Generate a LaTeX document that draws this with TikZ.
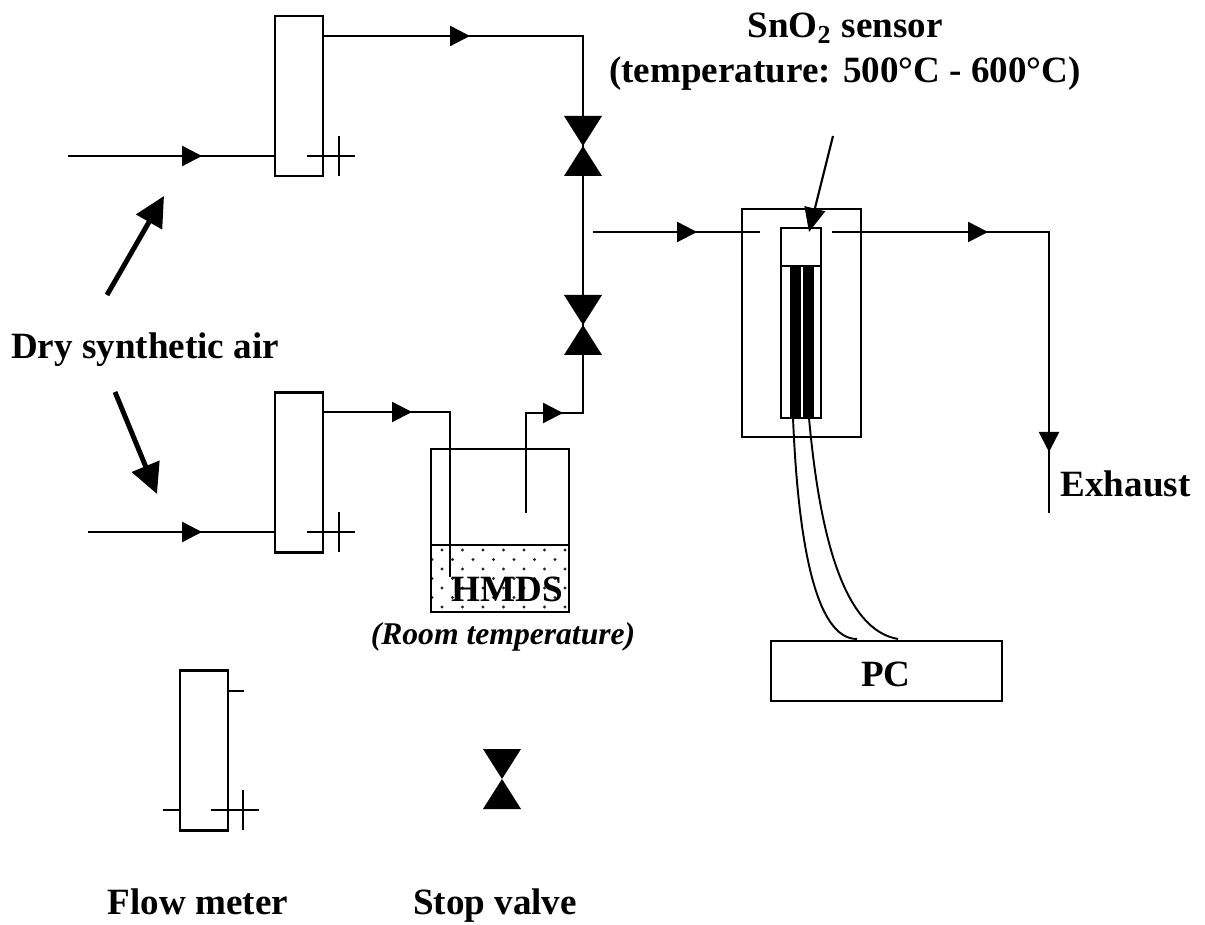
\documentclass[tikz,border=0pt]{standalone}
\usepackage{fontspec}
\setmainfont{Liberation Serif}
\usetikzlibrary{arrows.meta}

\tikzset{
  pipe/.style={line width=.65pt},
  flow/.style={pipe,-{Triangle[length=.2cm,width=.2cm]}},
  meter/.style={draw,line width=.65pt,minimum width=.48cm,minimum height=1.6cm,inner sep=0,outer sep=0},
  box/.style={draw,line width=.65pt,inner sep=0,outer sep=0},
  label/.style={font=\fontsize{10.55}{12.5}\selectfont\bfseries,align=center,inner sep=0,anchor=base},
  bigarrow/.style={line width=1.4pt,-{Triangle[length=.3cm,width=.29cm]}}
}

\begin{document}
\begin{tikzpicture}[x=1cm,y=-1cm]
\useasboundingbox (0,0) rectangle (12.05,9.25);

% Flow meters
\node[meter] (meterA) at (2.99,0.96) {};
\node[meter] (meterB) at (2.99,4.725) {};
\node[meter] (meterC) at (2.04,7.505) {};

% Bottle with the liquid
\foreach \row in {0,...,6}{
  \pgfmathsetmacro{\rowshift}{mod(\row,2)*(-0.1)}
  \foreach \col in {0,...,6}{
    \pgfmathsetmacro{\dotx}{4.42+\rowshift+\col*0.205}
    \pgfmathsetmacro{\doty}{5.50+\row*0.095}
    \fill[black!85] (\dotx,\doty) circle (.016);
  }
}
\node[box,minimum width=1.38cm,minimum height=1.63cm] (bottle) at (5.00,5.305) {};
\coordinate (liquidL) at (4.31,5.45);
\coordinate (liquidR) at (5.69,5.45);
\draw[pipe] (liquidL) -- (liquidR);

% Points of the lines
\coordinate (inA) at (0.68,1.56);
\coordinate (inAtip) at (2.02,1.56);
\coordinate (inB) at (0.88,5.32);
\coordinate (inBtip) at (2.02,5.32);
\coordinate (outA) at (3.23,0.36);
\coordinate (outAtip) at (4.70,0.36);
\coordinate (cornerA) at (5.83,0.36);
\coordinate (valveA) at (5.83,1.46);
\coordinate (valveB) at (5.83,3.25);
\coordinate (valveC) at (5.02,7.79);
\coordinate (outB) at (3.23,4.12);
\coordinate (outBtip) at (4.12,4.12);
\coordinate (cornerB) at (4.50,4.12);
\coordinate (dipB) at (4.50,5.77);
\coordinate (riseC) at (5.26,5.13);
\coordinate (cornerC) at (5.26,4.13);
\coordinate (riseCtip) at (5.63,4.13);
\coordinate (cornerD) at (5.83,4.13);
\coordinate (mainIn) at (5.93,2.32);
\coordinate (mainTip) at (6.97,2.32);
\coordinate (mainEnd) at (7.60,2.32);
\coordinate (mainOut) at (8.32,2.32);
\coordinate (mainOutTip) at (9.88,2.32);
\coordinate (cornerE) at (10.49,2.32);
\coordinate (exhaustTip) at (10.49,4.52);
\coordinate (exhaustEnd) at (10.49,5.13);

% Flow lines
\draw[pipe] (inA) -- (meterA.west |- inA);
\draw[flow] (inA) -- (inAtip);
\draw[pipe] (inB) -- (meterB.west |- inB);
\draw[flow] (inB) -- (inBtip);
\draw[pipe] (outA) -- (cornerA) -- (valveA) -- (valveB);
\draw[flow] (outA) -- (outAtip);
\draw[pipe] (outB) -- (cornerB) -- (dipB);
\draw[flow] (outB) -- (outBtip);
\draw[pipe] (riseC) -- (cornerC) -- (cornerD) -- (valveB);
\draw[flow] (riseC) -- (cornerC) -- (riseCtip);
\draw[pipe] (mainIn) -- (mainEnd);
\draw[flow] (mainIn) -- (mainTip);
\draw[pipe] (mainOut) -- (cornerE) -- (exhaustEnd);
\draw[flow] (mainOut) -- (mainOutTip);
\draw[flow] (cornerE) -- (exhaustTip);

% Stop valves
\foreach \v in {valveA,valveB,valveC}{
  \fill ([shift={(-.19,-.30)}]\v) -- ([shift={(.19,-.30)}]\v) -- ([shift={(-.19,.30)}]\v) -- ([shift={(.19,.30)}]\v) -- cycle;
}

% Ticks on the flow meters
\foreach \m/\x/\y in {A/3.39/1.56,B/3.39/5.32,C/2.43/8.10}{
  \coordinate (tick\m) at (\x,\y);
  \draw[pipe] ([xshift=-.32cm]tick\m) -- ([xshift=.16cm]tick\m);
  \draw[pipe] ([yshift=-.20cm]tick\m) -- ([yshift=.20cm]tick\m);
}
\coordinate (stubA) at (2.44,6.91);
\coordinate (stubB) at (1.63,8.10);
\draw[pipe] (meterC.east |- stubA) -- (stubA);
\draw[pipe] (stubB) -- (meterC.west |- stubB);

% Sensor
\node[box,minimum width=1.19cm,minimum height=2.28cm] (oven) at (8.015,3.23) {};
\node[box,minimum width=.40cm,minimum height=1.52cm] (probe) at (8.01,3.42) {};
\node[box,minimum width=.40cm,minimum height=.38cm] (head) at (8.01,2.47) {};
\fill (7.90,2.66) rectangle (8.01,4.18);
\fill (8.03,2.66) rectangle (8.14,4.18);
\coordinate (sensorFrom) at (8.33,1.36);
\coordinate (sensorTip) at (8.09,2.32);
\draw[line width=.6pt,-{Triangle[length=.24cm,width=.21cm]}] (sensorFrom) -- (sensorTip);

% PC and wires
\node[box,minimum width=2.31cm,minimum height=.60cm] (pc) at (8.865,6.71) {};
\coordinate (wireA) at (7.93,4.18);
\coordinate (wireB) at (8.09,4.18);
\coordinate (wireAend) at (8.57,6.39);
\coordinate (wireBend) at (8.98,6.39);
\draw[pipe,line width=.55pt] (wireA) .. controls (7.98,5.40) and (8.15,6.39) .. (wireAend);
\draw[pipe,line width=.55pt] (wireB) .. controls (8.20,5.40) and (8.45,6.30) .. (wireBend);

% Labels
\node[label] (pcText) at (8.86,6.86) {PC};
\node[label] (sensorText) at (8.45,0.38) {SnO\textsubscript{2} sensor};
\node[label] (tempText) at (8.45,0.83) {(temperature: 500°C - 600°C)};
\node[label] (airText) at (1.45,3.59) {Dry synthetic air};
\node[label] (exhaustText) at (11.255,4.97) {Exhaust};
\node[label] (liquidText) at (5.07,6.02) {HMDS};
\node[label,font=\fontsize{9}{11}\selectfont\bfseries\itshape] (roomText) at (5.03,6.45) {(Room temperature)};
\node[label] (meterText) at (1.98,9.14) {Flow meter};
\node[label] (valveText) at (4.95,9.14) {Stop valve};

% Arrows from the air label
\coordinate (airUpFrom) at (1.07,2.95);
\coordinate (airUpTo) at (1.64,1.96);
\coordinate (airDownFrom) at (1.15,3.92);
\coordinate (airDownTo) at (1.57,4.94);
\draw[bigarrow] (airUpFrom) -- (airUpTo);
\draw[bigarrow] (airDownFrom) -- (airDownTo);

\end{tikzpicture}
\end{document}
